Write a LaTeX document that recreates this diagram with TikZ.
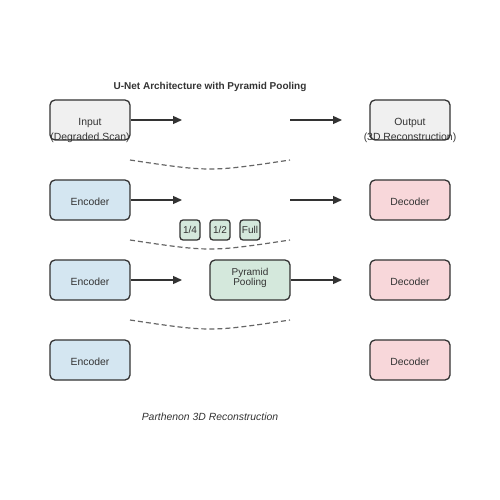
\documentclass[tikz,border=0pt]{standalone}
\usepackage{fontspec}
\setmainfont{Liberation Sans}
\usetikzlibrary{arrows.meta}
\definecolor{ink}{HTML}{333333}
\definecolor{ingray}{HTML}{F0F0F0}
\definecolor{encblue}{HTML}{D4E6F1}
\definecolor{decpink}{HTML}{F8D7DA}
\definecolor{poolgreen}{HTML}{D4E8DC}
\definecolor{dashgray}{HTML}{666666}
\begin{document}
\begin{tikzpicture}[x=1pt,y=-1pt,
  blk/.style={draw=ink,line width=1.3pt,rounded corners=5pt,minimum width=80pt,minimum height=40pt,inner sep=0pt,text=ink},
  small/.style={draw=ink,line width=1.3pt,rounded corners=3pt,minimum width=20pt,minimum height=20pt,inner sep=0pt,fill=poolgreen,font=\fontsize{10}{11}\selectfont,text=ink},
  arr/.style={draw=ink,line width=1.3pt,-{Triangle[length=9pt,width=8pt]}},
  skip/.style={draw=dashgray,line width=1.2pt,dash pattern=on 5pt off 3pt},
  lbl/.style={text=ink,inner sep=0pt,anchor=base,font=\fontsize{10.4}{11}\selectfont}
]
\useasboundingbox (0,0) rectangle (500,500);
\node[lbl,font=\bfseries\fontsize{10}{11}\selectfont] (title) at (210,90) {U-Net Architecture with Pyramid Pooling};
% left column
\node[blk,fill=ingray] (in) at (90,120) {};
\node[lbl] (inA) at (90,125) {Input};
\node[lbl] (inB) at (90,140) {(Degraded Scan)};
\node[blk,fill=encblue] (e1) at (90,200) {};
\node[lbl] at (90,205.3) {Encoder};
\node[blk,fill=encblue] (e2) at (90,280) {};
\node[lbl] at (90,285.3) {Encoder};
\node[blk,fill=encblue] (e3) at (90,360) {};
\node[lbl] at (90,365.3) {Encoder};
% right column
\node[blk,fill=ingray] (out) at (410,120) {};
\node[lbl] (outA) at (410,125) {Output};
\node[lbl] (outB) at (410,140) {(3D Reconstruction)};
\node[blk,fill=decpink] (d1) at (410,200) {};
\node[lbl] at (410,205.3) {Decoder};
\node[blk,fill=decpink] (d2) at (410,280) {};
\node[lbl] at (410,285.3) {Decoder};
\node[blk,fill=decpink] (d3) at (410,360) {};
\node[lbl] at (410,365.3) {Decoder};
% pyramid pooling
\node[blk,fill=poolgreen] (pp) at (250,280) {};
\node[lbl,font=\fontsize{10}{10}\selectfont] (ppA) at (250,275) {Pyramid};
\node[lbl,font=\fontsize{10}{10}\selectfont] (ppB) at (250,285) {Pooling};
\node[small] (q4) at (190,230) {1/4};
\node[small] (q2) at (220,230) {1/2};
\node[small] (qf) at (250,230) {Full};
% coordinates for free arrow ends
\coordinate (a1) at (182,120);
\coordinate (b1) at (290,120);
\coordinate (c1) at (342,120);
\coordinate (a2) at (182,200);
\coordinate (b2) at (290,200);
\coordinate (c2) at (342,200);
\coordinate (a3) at (182,280);
\coordinate (c3) at (342,280);
\draw[arr] (in.east) -- (a1);
\draw[arr] (b1) -- (c1);
\draw[arr] (e1.east) -- (a2);
\draw[arr] (b2) -- (c2);
\draw[arr] (e2.east) -- (a3);
\draw[arr] (pp.east) -- (c3);
% skip connections
\coordinate (s1l) at (130,160); \coordinate (s1r) at (290,160);
\coordinate (s2l) at (130,240); \coordinate (s2r) at (290,240);
\coordinate (s3l) at (130,320); \coordinate (s3r) at (290,320);
\draw[skip] (s1l) .. controls (210,172) .. (s1r);
\draw[skip] (s2l) .. controls (210,252) .. (s2r);
\draw[skip] (s3l) .. controls (210,332) .. (s3r);
\node[lbl,font=\itshape\fontsize{10.4}{11}\selectfont] (cap) at (210,420) {Parthenon 3D Reconstruction};
\end{tikzpicture}
\end{document}
